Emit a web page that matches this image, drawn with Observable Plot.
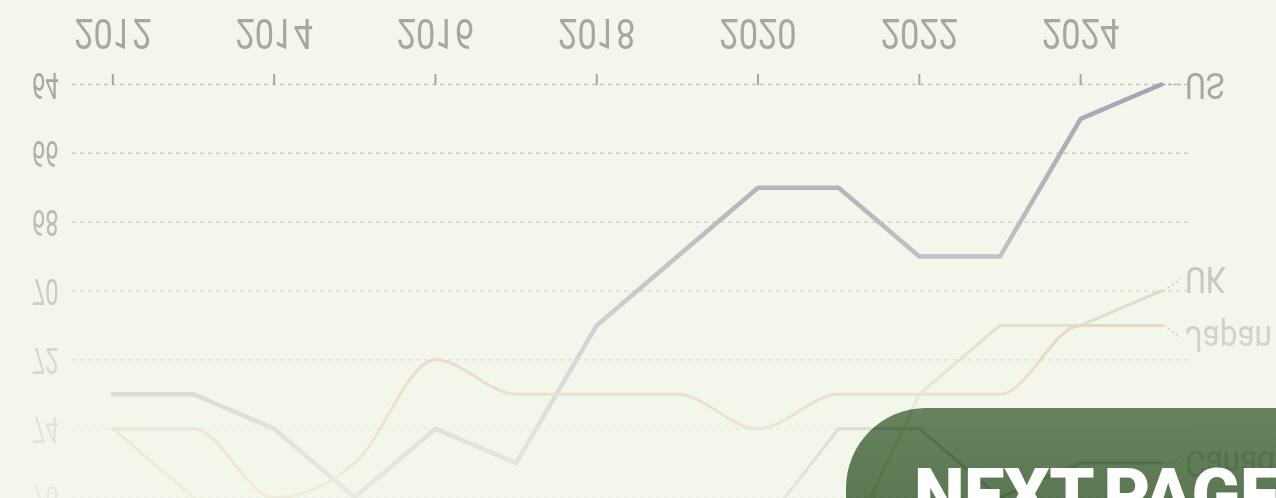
<!DOCTYPE html>
<html>
<head>
<meta charset="utf-8">
<script src="https://cdn.jsdelivr.net/npm/d3@7"></script>
<script src="https://cdn.jsdelivr.net/npm/@observablehq/plot@0.6"></script>
<style>
html, body { margin: 0; padding: 0; }
body {
  width: 1276px; height: 498px; overflow: hidden; position: relative;
  background: #f3f6ea;
  font-family: Roboto, 'DejaVu Sans Condensed', sans-serif;
}
#fade {
  position: absolute; left: 0; top: 0; width: 1276px; height: 498px;
  -webkit-mask-image: linear-gradient(to bottom, #000 0%, #000 17%, rgba(0,0,0,.88) 31%, rgba(0,0,0,.73) 45%, rgba(0,0,0,.54) 59%, rgba(0,0,0,.38) 72%, rgba(0,0,0,.24) 86%, rgba(0,0,0,.14) 100%);
  mask-image: linear-gradient(to bottom, #000 0%, #000 17%, rgba(0,0,0,.88) 31%, rgba(0,0,0,.73) 45%, rgba(0,0,0,.54) 59%, rgba(0,0,0,.38) 72%, rgba(0,0,0,.24) 86%, rgba(0,0,0,.14) 100%);
}
.flip { width: 1276px; height: 498px; transform: scaleY(-1); transform-origin: 50% 50%; }
#button {
  position: absolute; left: 846px; top: 408px; width: 520px; height: 220px;
  border-radius: 80px; overflow: hidden;
}
#under { position: absolute; left: -846px; top: -408px; width: 1276px; height: 498px; }
#tint {
  position: absolute; left: 0; top: 0; right: 0; bottom: 0;
  background: linear-gradient(to bottom, rgba(77,111,69,0.85) 0px, rgba(64,98,55,0.85) 90px);
}
#btntext {
  position: absolute; left: 68px; top: 52px;
  font-family: Roboto, 'Noto Sans', sans-serif; font-weight: 900; font-size: 72px; line-height: 1;
  color: #ffffff; white-space: nowrap; letter-spacing: -0.5px; word-spacing: -6px;
}
</style>
</head>
<body>
<div id="fade"><div class="flip" id="main"></div></div>
<div id="button">
  <div id="under"><div class="flip" id="copy"></div></div>
  <div id="tint"></div>
  <div id="btntext">NEXT PAGE</div>
</div>
<script>
// ---- data ----
const years = [2012, 2013, 2014, 2015, 2016, 2017, 2018, 2019, 2020, 2021, 2022, 2023, 2024, 2025];
const usScores     = [73, 73, 74, 76, 74, 75, 71, 69, 67, 67, 69, 69, 65, 64];
const ukScores     = [74, 76, 78, 81, 81, 82, 80, 77, 77, 78, 73, 71, 71, 70];
const japanScores  = [74, 74, 76, 75, 72, 73, 73, 73, 74, 73, 73, 73, 71, 71];
const canadaScores = [84, 81, 81, 83, 82, 82, 81, 77, 77, 74, 74, 76, 75, 75];
const countries = ["US", "UK", "Japan", "Canada"];
const xTicks = [2012, 2014, 2016, 2018, 2020, 2022, 2024];
const yTicks = [64, 66, 68, 70, 72, 74, 76];

const seriesValues = {US: usScores, UK: ukScores, Japan: japanScores, Canada: canadaScores};
const colors = {US: "#a3a6b2", UK: "#c0cfb0", Japan: "#e3ab9f", Canada: "#8c9489"};
const widths = {US: 4.5, UK: 3, Japan: 3, Canada: 3};
const curves = {US: "linear", UK: "linear", Japan: "monotone-x", Canada: "linear"};

const rows = countries.flatMap(c => years.map((y, i) => ({country: c, year: y, value: seriesValues[c][i]})));
const lastYear = years[years.length - 1];

// end labels, dodged apart so they do not collide
const labels = countries.map(c => ({name: c, value: seriesValues[c][years.length - 1]}))
  .sort((a, b) => a.value - b.value);
labels.forEach(d => d.labelY = d.value);
const minGap = 1.7;
for (let i = 1; i < labels.length; i++) {
  const a = labels[i - 1], b = labels[i];
  if (b.labelY - a.labelY < minGap) {
    const mid = (a.labelY + b.labelY) / 2;
    a.labelY = mid - minGap / 2;
    b.labelY = mid + minGap / 2;
  }
}

const fontFam = "Roboto, 'DejaVu Sans Condensed', sans-serif";
const textColor = "#a6a7a1";

function squeeze(svg, selector, k) {
  d3.select(svg).selectAll(selector)
    .attr("transform", function() { return (this.getAttribute("transform") || "") + ` scale(${k},1)`; });
}

function makeChart() {
  const lineMarks = countries.map(c => Plot.line(rows.filter(d => d.country === c), {
    x: "year", y: "value", stroke: colors[c], strokeWidth: widths[c], curve: curves[c],
    strokeLinejoin: "round", strokeLinecap: "round"
  }));
  const svg = Plot.plot({
    width: 1276, height: 498,
    marginLeft: 72, marginRight: 87, marginTop: 0, marginBottom: 85,
    style: {background: "transparent", color: textColor, fontFamily: fontFam, overflow: "hidden"},
    x: {domain: [2011.5, 2025.35], label: null},
    y: {domain: [64, 76], label: null},
    marks: [
      Plot.gridY({ticks: yTicks, stroke: "#c6c8c0", strokeOpacity: 1, strokeWidth: 1.5, strokeDasharray: "4,4"}),
      Plot.axisX({ticks: xTicks, tickFormat: d => String(d), tickSize: 11, tickPadding: 24, fontSize: 43, strokeWidth: 2}),
      Plot.axisY({ticks: yTicks, tickSize: 0, tickPadding: 14, fontSize: 37}),
      ...lineMarks,
      Plot.link(labels, {x1: () => lastYear + 0.03, y1: "value", x2: () => lastYear + 0.24, y2: "labelY",
        stroke: "#a6a7a1", strokeWidth: 1.5, strokeDasharray: "2,3"}),
      Plot.text(labels, {x: () => lastYear, y: "labelY", text: "name", dx: 24, textAnchor: "start",
        fontSize: 37, fill: textColor})
    ]
  });
  squeeze(svg, '[aria-label="x-axis tick label"] text', 0.8);
  squeeze(svg, '[aria-label="y-axis tick label"] text', 0.64);
  squeeze(svg, 'g[aria-label="text"] text', 0.85);
  return svg;
}

document.getElementById("main").appendChild(makeChart());
document.getElementById("copy").appendChild(makeChart());
</script>
</body>
</html>
